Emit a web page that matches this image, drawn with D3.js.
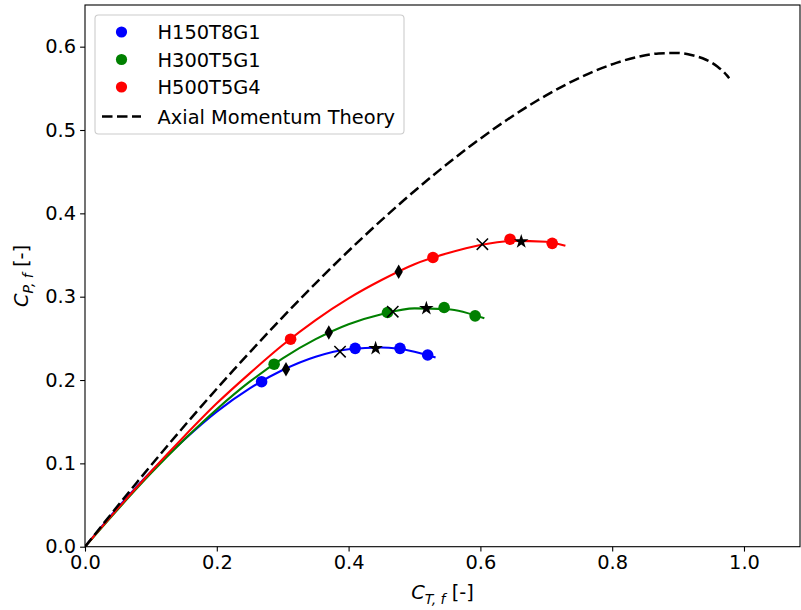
<!DOCTYPE html>
<html>
<head>
<meta charset="utf-8">
<script src="https://cdnjs.cloudflare.com/ajax/libs/d3/7.8.5/d3.min.js"></script>
<style>
  body { margin: 0; background: #fff; }
  svg text { font-family: "DejaVu Sans", sans-serif; }
</style>
</head>
<body>
<div class="holder"></div>
<script>
// measured points (circles)
var seriesNames = ['H150T8G1', 'H300T5G1', 'H500T5G4']
var h150CT = [0.268, 0.410, 0.478, 0.520]
var h150CP = [0.198, 0.238, 0.238, 0.230]
var h300CT = [0.287, 0.459, 0.545, 0.592]
var h300CP = [0.219, 0.281, 0.287, 0.277]
var h500CT = [0.312, 0.528, 0.645, 0.709]
var h500CP = [0.249, 0.347, 0.369, 0.364]

// fitted curves
var h150FitCT = [0, 0.05, 0.1, 0.15, 0.2, 0.25, 0.3, 0.35, 0.4, 0.45, 0.5, 0.532]
var h150FitCP = [0, 0.047, 0.090, 0.128, 0.162, 0.190, 0.212, 0.228, 0.237, 0.239, 0.234, 0.227]
var h300FitCT = [0, 0.05, 0.1, 0.15, 0.2, 0.25, 0.3, 0.35, 0.4, 0.45, 0.5, 0.55, 0.606]
var h300FitCP = [0, 0.045, 0.088, 0.128, 0.165, 0.198, 0.226, 0.249, 0.267, 0.279, 0.286, 0.285, 0.274]
var h500FitCT = [0, 0.05, 0.1, 0.15, 0.2, 0.25, 0.3, 0.35, 0.4, 0.45, 0.5, 0.55, 0.6, 0.65, 0.7, 0.729]
var h500FitCP = [0, 0.046, 0.090, 0.132, 0.172, 0.208, 0.242, 0.272, 0.298, 0.320, 0.339, 0.352, 0.362, 0.367, 0.366, 0.361]

// black markers, one per series
var diamondCT = [0.305, 0.370, 0.476]
var diamondCP = [0.213, 0.257, 0.330]
var crossCT = [0.387, 0.467, 0.603]
var crossCP = [0.234, 0.282, 0.363]
var starCT = [0.441, 0.518, 0.662]
var starCP = [0.239, 0.287, 0.367]

// axial momentum theory
var amtCT = [0, 0.0784, 0.1536, 0.2256, 0.2944, 0.36, 0.4224, 0.4816, 0.5376, 0.5904, 0.64, 0.6864,
  0.7296, 0.7696, 0.8064, 0.84, 0.8704, 0.8976, 0.9216, 0.9424, 0.96, 0.9744, 0.9775]
var amtCP = [0, 0.0768, 0.1475, 0.2121, 0.2708, 0.324, 0.3717, 0.4142, 0.4516, 0.4841, 0.512, 0.5354,
  0.5545, 0.5695, 0.5806, 0.588, 0.5919, 0.5924, 0.5898, 0.5843, 0.576, 0.5652, 0.5621]

var xTicks = [0, 0.2, 0.4, 0.6, 0.8, 1.0]
var yTicks = [0, 0.1, 0.2, 0.3, 0.4, 0.5, 0.6]

var colors = ['#0000ff', '#008000', '#ff0000']
var fs = 19.4

var pLeft = 85, pTop = 5, pRight = 800, pBottom = 546.7

var svg = d3.select('.holder')
  .append('svg')
  .attr('width', 801)
  .attr('height', 610)

var xScale = d3.scaleLinear().domain([0, 1.085]).range([pLeft, pRight])
var yScale = d3.scaleLinear().domain([0, 0.65]).range([pBottom, pTop])

svg.append('defs').append('clipPath')
  .attr('id', 'clip')
  .append('rect')
  .attr('x', pLeft).attr('y', pTop)
  .attr('width', pRight - pLeft).attr('height', pBottom - pTop)

function zip(xs, ys) {
  return xs.map(function(x, i) { return [x, ys[i]] })
}

var line = d3.line()
  .x(function(d) { return xScale(d[0]) })
  .y(function(d) { return yScale(d[1]) })
  .curve(d3.curveMonotoneX)

var plot = svg.append('g').attr('clip-path', 'url(#clip)')

var fits = [zip(h150FitCT, h150FitCP), zip(h300FitCT, h300FitCP), zip(h500FitCT, h500FitCP)]
var pts = [zip(h150CT, h150CP), zip(h300CT, h300CP), zip(h500CT, h500CP)]

fits.forEach(function(f, i) {
  plot.append('path')
    .datum(f)
    .attr('d', line)
    .attr('fill', 'none')
    .attr('stroke', colors[i])
    .attr('stroke-width', 2.1)
})

plot.append('path')
  .datum(zip(amtCT, amtCP))
  .attr('d', line)
  .attr('fill', 'none')
  .attr('stroke', 'black')
  .attr('stroke-width', 2.5)
  .attr('stroke-dasharray', '10.5,4.5')

pts.forEach(function(p, i) {
  plot.selectAll('.dot' + i)
    .data(p)
    .enter()
    .append('circle')
    .attr('cx', function(d) { return xScale(d[0]) })
    .attr('cy', function(d) { return yScale(d[1]) })
    .attr('r', 5.8)
    .attr('fill', colors[i])
})

// thin diamonds
plot.selectAll('.diamond')
  .data(zip(diamondCT, diamondCP))
  .enter()
  .append('path')
  .attr('d', d3.symbol(d3.symbolDiamond, 60))
  .attr('transform', function(d) { return 'translate(' + xScale(d[0]) + ',' + yScale(d[1]) + ')' })
  .attr('fill', 'black')

plot.selectAll('.cross')
  .data(zip(crossCT, crossCP))
  .enter()
  .append('path')
  .attr('d', d3.symbol(d3.symbolX, 86))
  .attr('transform', function(d) { return 'translate(' + xScale(d[0]) + ',' + yScale(d[1]) + ')' })
  .attr('fill', 'none')
  .attr('stroke', 'black')
  .attr('stroke-width', 1.5)

plot.selectAll('.star')
  .data(zip(starCT, starCP))
  .enter()
  .append('path')
  .attr('d', d3.symbol(d3.symbolStar, 66))
  .attr('transform', function(d) { return 'translate(' + xScale(d[0]) + ',' + (yScale(d[1]) + 0.8) + ')' })
  .attr('fill', 'black')

// axes
var xAxis = d3.axisBottom(xScale).tickValues(xTicks).tickFormat(d3.format('.1f')).tickSize(4.9).tickPadding(4)
var yAxis = d3.axisLeft(yScale).tickValues(yTicks).tickFormat(d3.format('.1f')).tickSize(4.9).tickPadding(4)

var gx = svg.append('g')
  .attr('transform', 'translate(0,' + pBottom + ')')
  .call(xAxis)
var gy = svg.append('g')
  .attr('transform', 'translate(' + pLeft + ',0)')
  .call(yAxis)

;[gx, gy].forEach(function(g) {
  g.select('.domain').remove()
  g.selectAll('.tick line').attr('stroke', 'black').attr('stroke-width', 1.1)
  g.selectAll('.tick text').attr('fill', 'black').style('font-size', fs + 'px')
})

svg.append('rect')
  .attr('x', pLeft).attr('y', pTop)
  .attr('width', pRight - pLeft).attr('height', pBottom - pTop)
  .attr('fill', 'none')
  .attr('stroke', 'black')
  .attr('stroke-width', 1.1)

// axis labels
var xl = svg.append('text')
  .attr('x', 442.5)
  .attr('y', 599)
  .attr('text-anchor', 'middle')
  .style('font-size', fs + 'px')
xl.append('tspan').style('font-style', 'italic').text('C')
xl.append('tspan').attr('dy', 5).style('font-size', '14px').style('font-style', 'italic').text('T, f')
xl.append('tspan').attr('dy', -5).text(' [-]')

var yl = svg.append('text')
  .attr('transform', 'translate(28,276) rotate(-90)')
  .attr('text-anchor', 'middle')
  .style('font-size', fs + 'px')
yl.append('tspan').style('font-style', 'italic').text('C')
yl.append('tspan').attr('dy', 5).style('font-size', '14px').style('font-style', 'italic').text('P, f')
yl.append('tspan').attr('dy', -5).text(' [-]')

// legend
var legend = svg.append('g').attr('id', 'legend')
legend.append('rect')
  .attr('x', 95).attr('y', 15)
  .attr('width', 309).attr('height', 119)
  .attr('rx', 3.5)
  .attr('fill', 'white').attr('fill-opacity', 0.8)
  .attr('stroke', '#cccccc').attr('stroke-width', 1.1)

var rowY = [32, 59.5, 87, 116.5]
seriesNames.forEach(function(name, i) {
  legend.append('circle')
    .attr('cx', 121.5).attr('cy', rowY[i])
    .attr('r', 5.6)
    .attr('fill', colors[i])
  legend.append('text')
    .attr('x', 157.5).attr('y', rowY[i] + 7)
    .style('font-size', fs + 'px')
    .text(name)
})
legend.append('line')
  .attr('x1', 102).attr('x2', 141)
  .attr('y1', rowY[3]).attr('y2', rowY[3])
  .attr('stroke', 'black').attr('stroke-width', 2.5)
  .attr('stroke-dasharray', '10.5,4.5')
legend.append('text')
  .attr('x', 157.5).attr('y', rowY[3] + 7)
  .style('font-size', fs + 'px')
  .text('Axial Momentum Theory')
</script>
</body>
</html>
